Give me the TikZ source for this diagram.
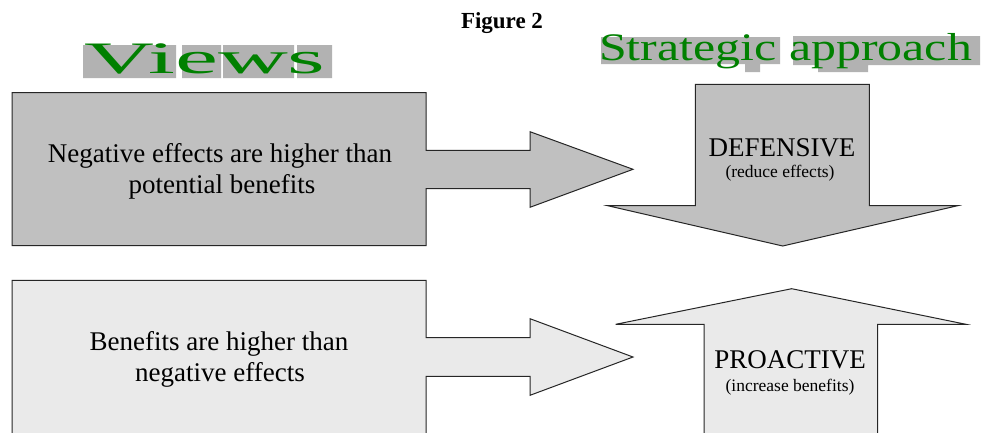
\documentclass[tikz,border=0pt]{standalone}
\usepackage{fontspec}
\setmainfont{Liberation Serif}
\usepackage{tikz}
\usetikzlibrary{positioning}

\definecolor{wordgreen}{RGB}{0,128,0}
\definecolor{wordshade}{RGB}{178,178,178}
\definecolor{boxgray}{RGB}{192,192,192}
\definecolor{dotgray}{RGB}{234,234,234}

\begin{document}
\begin{tikzpicture}[x=1pt,y=-1pt,
    shapeline/.style={draw=black!85,line width=1pt,line join=miter},
    bodytext/.style={anchor=base,inner sep=0pt,font=\fontsize{27}{30}\selectfont},
    bigtext/.style={anchor=base,inner sep=0pt,font=\fontsize{27}{30}\selectfont},
    smalltext/.style={anchor=base,inner sep=0pt,font=\fontsize{17.5}{20}\selectfont},
    arttext/.style={anchor=base west,inner sep=0pt,text=wordgreen}]
  \clip (0,0) rectangle (983,432);
  \fill[white] (0,0) rectangle (983,432);
  % headings
  \node[anchor=base,inner sep=0pt,font=\bfseries\fontsize{23}{26}\selectfont] (fig) at (502,28) {Figure 2};
  \fill[wordshade] (83,45) rectangle (176,78) (182,45) rectangle (221,78)
                   (223,45) rectangle (294,78) (297,45) rectangle (332,78);
  \node[arttext,font=\fontsize{45}{50}\selectfont] (views) at (84,73) {\scalebox{2.15}[1]{Views}};
  \fill[wordshade] (601,37) rectangle (780,64) (793,36) rectangle (980,65)
                   (745,64) rectangle (760,72) (818,64) rectangle (868,72);
  \node[arttext,font=\fontsize{39}{44}\selectfont] (strat) at (599,60) {\scalebox{1.28}[1]{Strategic approach}};
  % views
  \draw[shapeline,fill=boxgray] (12,92.7) -- (426,92.7) -- (426,150.3) -- (530,150.3) -- (530,131.7)
    -- (633,169.3) -- (530,207.3) -- (530,188.7) -- (426,188.7) -- (426,245.7) -- (12,245.7) -- cycle;
  \draw[shapeline,fill=dotgray] (12,440) -- (12,280.3) -- (426,280.3) -- (426,337.7) -- (530,337.7) -- (530,318.7)
    -- (633,357) -- (530,395.3) -- (530,376.3) -- (426,376.3) -- (426,440);
  \node[bodytext] (neg1) at (220,162.7) {Negative effects are higher than};
  \node[bodytext] (neg2) at (222,193.2) {potential benefits};
  \node[bodytext] (ben1) at (219,350.7) {Benefits are higher than};
  \node[bodytext] (ben2) at (220,381) {negative effects};
  % strategic approach
  \draw[shapeline,fill=boxgray] (695.3,84.3) -- (869.3,84.3) -- (869.3,205.7) -- (957.7,205.7)
    -- (782.7,246) -- (607.7,205.7) -- (695.3,205.7) -- cycle;
  \draw[shapeline,fill=dotgray] (704,440) -- (704,324.3) -- (615.7,324.3) -- (791.7,288.7)
    -- (966,324.3) -- (877.7,324.3) -- (877.7,440);
  \node[bigtext] (def) at (782,156) {DEFENSIVE};
  \node[smalltext] (defsub) at (780,177) {(reduce effects)};
  \node[bigtext] (pro) at (790,368.3) {PROACTIVE};
  \node[smalltext] (prosub) at (790,391.5) {(increase benefits)};
\end{tikzpicture}
\end{document}
